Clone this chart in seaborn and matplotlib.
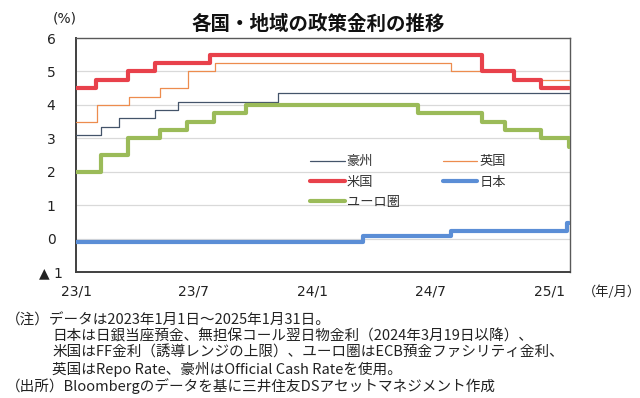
import matplotlib
matplotlib.use("Agg")
import matplotlib.pyplot as plt
import seaborn as sns
import pandas as pd

sns.set_theme(style="white")
plt.rcParams['font.family'] = ['Noto Sans CJK JP', 'DejaVu Sans']

# ---- data (step changes: date of change, new value) ----
aus_dates = ['2023-01-01', '2023-02-08', '2023-03-08', '2023-05-03', '2023-06-07', '2023-11-08', '2025-01-31']
aus_vals = [3.10, 3.35, 3.60, 3.85, 4.10, 4.35, 4.35]

uk_dates = ['2023-01-01', '2023-02-02', '2023-03-23', '2023-05-11', '2023-06-22', '2023-08-03',
            '2024-08-01', '2024-11-07', '2025-01-31']
uk_vals = [3.50, 4.00, 4.25, 4.50, 5.00, 5.25, 5.00, 4.75, 4.75]

us_dates = ['2023-01-01', '2023-02-01', '2023-03-22', '2023-05-03', '2023-07-26',
            '2024-09-18', '2024-11-07', '2024-12-18', '2025-01-31']
us_vals = [4.50, 4.75, 5.00, 5.25, 5.50, 5.00, 4.75, 4.50, 4.50]

jp_dates = ['2023-01-01', '2024-03-19', '2024-08-01', '2025-01-27', '2025-01-31']
jp_vals = [-0.10, 0.077, 0.227, 0.477, 0.477]

eu_dates = ['2023-01-01', '2023-02-08', '2023-03-22', '2023-05-10', '2023-06-21', '2023-08-02',
            '2023-09-20', '2024-06-12', '2024-09-18', '2024-10-23', '2024-12-18', '2025-01-30', '2025-01-31']
eu_vals = [2.00, 2.50, 3.00, 3.25, 3.50, 3.75, 4.00, 3.75, 3.50, 3.25, 3.00, 2.75, 2.75]

x_tick_dates = ['2023-01-01', '2023-07-01', '2024-01-01', '2024-07-01', '2025-01-01']
x_tick_labels = ['23/1', '23/7', '24/1', '24/7', '25/1']
y_ticks = [-1, 0, 1, 2, 3, 4, 5, 6]
y_tick_labels = ['▲ 1', '0', '1', '2', '3', '4', '5', '6']

colors = {'豪州': '#44546A', '英国': '#ED8C4E', '米国': '#E8414B', '日本': '#5B8ED6', 'ユーロ圏': '#9BBB59'}
widths = {'豪州': 0.9, '英国': 0.9, '米国': 3.0, '日本': 3.0, 'ユーロ圏': 3.0}

frames = []
for name, d, v in [('豪州', aus_dates, aus_vals), ('英国', uk_dates, uk_vals), ('米国', us_dates, us_vals),
                   ('日本', jp_dates, jp_vals), ('ユーロ圏', eu_dates, eu_vals)]:
    frames.append(pd.DataFrame({'date': pd.to_datetime(d), 'rate': v, 'country': name}))
df = pd.concat(frames, ignore_index=True)

fig = plt.figure(figsize=(6.4, 3.98), dpi=100)
ax = fig.add_axes([76 / 640, 1 - 272 / 398, (570 - 76) / 640, (272 - 38) / 398])

draw_order = ['豪州', '英国', 'ユーロ圏', '日本', '米国']
handles = {}
for name in draw_order:
    sub = df[df['country'] == name]
    sns.lineplot(data=sub, x='date', y='rate', ax=ax, color=colors[name], linewidth=widths[name],
                 drawstyle='steps-post', label=name, legend=False, zorder=3)
    handles[name] = ax.lines[-1]

ax.set_xlim(pd.Timestamp('2023-01-01'), pd.Timestamp('2025-02-01'))
ax.set_ylim(-1, 6)
ax.set_xlabel('')
ax.set_ylabel('')

# grid
for yv in [0, 1, 2, 3, 4, 5]:
    ax.axhline(yv, color='#D9D9D9', linewidth=0.9, zorder=1)

# ticks
ax.set_xticks(pd.to_datetime(x_tick_dates))
ax.set_xticklabels(x_tick_labels, fontfamily='DejaVu Sans', fontsize=10, color='#222222')
ax.set_yticks(y_ticks)
ax.set_yticklabels(y_tick_labels, fontfamily='DejaVu Sans', fontsize=10, color='#222222')
ax.tick_params(axis='x', direction='in', length=6, width=1, color='#404040', pad=9)
ax.tick_params(axis='y', direction='in', length=5, width=1, color='#404040', pad=18)
for lbl in ax.get_yticklabels():
    lbl.set_horizontalalignment('center')

for s in ['left', 'bottom']:
    ax.spines[s].set_color('#404040')
    ax.spines[s].set_linewidth(1.4)
for s in ['top', 'right']:
    ax.spines[s].set_color('#595959')
    ax.spines[s].set_linewidth(1.0)

# legend (row-wise appearance: 豪州 英国 / 米国 日本 / ユーロ圏)
leg_order = ['豪州', '米国', 'ユーロ圏', '英国', '日本']
leg = ax.legend([handles[n] for n in leg_order], leg_order, ncol=2, frameon=False,
                loc='upper left', bbox_to_anchor=((305 - 76) / 494, 1 - (150 - 38) / 234),
                fontsize=9.5, handlelength=2.6, handletextpad=0.15, columnspacing=3.3,
                labelspacing=0.55, borderaxespad=0)
for t in leg.get_texts():
    t.set_color('#333333')

# texts
fig.text(318 / 640, 1 - 24 / 398, '各国・地域の政策金利の推移', ha='center', va='center',
         fontsize=14, fontweight='bold', color='#111111')
fig.text(65 / 640, 1 - 19 / 398, '(%)', ha='center', va='center', fontsize=10, color='#222222',
         fontfamily='DejaVu Sans')
fig.text(612 / 640, 1 - 292 / 398, '（年/月）', ha='center', va='center', fontsize=9.5, color='#222222')

notes = [
    (6, 320, '（注）データは2023年1月1日～2025年1月31日。'),
    (52, 336.5, '日本は日銀当座預金、無担保コール翌日物金利（2024年3月19日以降）、'),
    (52, 353, '米国はFF金利（誘導レンジの上限）、ユーロ圏はECB預金ファシリティ金利、'),
    (52, 369.5, '英国はRepo Rate、豪州はOfficial Cash Rateを使用。'),
    (6, 386, '（出所）Bloombergのデータを基に三井住友DSアセットマネジメント作成'),
]
for x, y, t in notes:
    fig.text(x / 640, 1 - y / 398, t, ha='left', va='center', fontsize=10.5, color='#222222')

fig.savefig('out.png', dpi=100)
